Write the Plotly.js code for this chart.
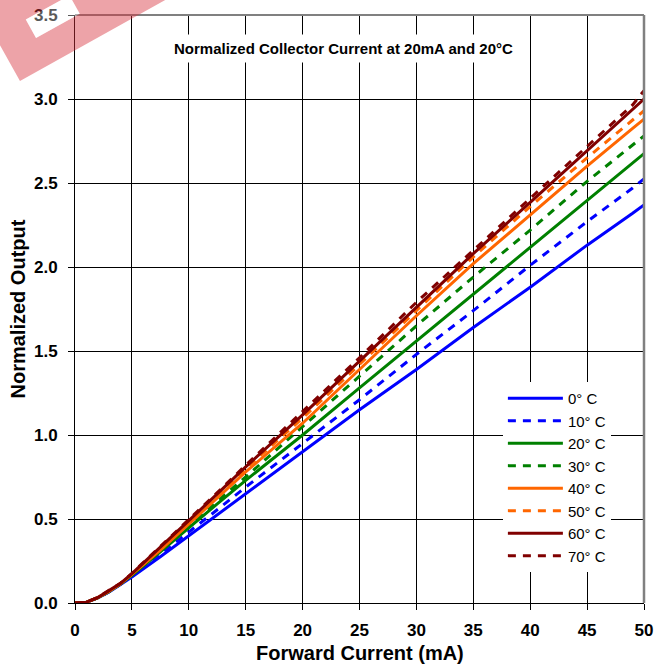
<!DOCTYPE html>
<html>
<head>
<meta charset="utf-8">
<script src="https://cdn.plot.ly/plotly-3.0.1.min.js"></script>
<style>html,body{margin:0;padding:0;background:#fff;}#chart{width:654px;height:668px;}</style>
</head>
<body>
<div id="chart"></div>
<script>
// Forward current (mA)
const current = [0, 1, 2, 3, 4, 5, 7.5, 10, 12.5, 15, 20, 25, 30, 35, 40, 45, 49, 50];
// Normalized output per temperature
const out0C  = [0, 0.005, 0.030, 0.066, 0.110, 0.155, 0.275, 0.400, 0.525, 0.650, 0.900, 1.150, 1.390, 1.640, 1.880, 2.130, 2.320, 2.370];
const out10C = [0, 0.005, 0.030, 0.067, 0.112, 0.160, 0.290, 0.420, 0.555, 0.690, 0.950, 1.210, 1.480, 1.740, 2.010, 2.270, 2.470, 2.525];
const out20C = [0, 0.005, 0.031, 0.068, 0.113, 0.165, 0.305, 0.450, 0.590, 0.730, 1.000, 1.280, 1.560, 1.840, 2.120, 2.400, 2.620, 2.675];
const out30C = [0, 0.005, 0.031, 0.069, 0.114, 0.168, 0.310, 0.460, 0.605, 0.750, 1.050, 1.350, 1.650, 1.940, 2.220, 2.510, 2.725, 2.780];
const out40C = [0, 0.005, 0.032, 0.070, 0.115, 0.170, 0.315, 0.470, 0.625, 0.780, 1.070, 1.390, 1.710, 2.020, 2.310, 2.600, 2.825, 2.880];
const out50C = [0, 0.005, 0.032, 0.071, 0.116, 0.172, 0.320, 0.480, 0.640, 0.800, 1.100, 1.420, 1.740, 2.060, 2.360, 2.650, 2.875, 2.930];
const out60C = [0, 0.005, 0.032, 0.072, 0.117, 0.175, 0.330, 0.490, 0.650, 0.810, 1.120, 1.440, 1.765, 2.080, 2.385, 2.690, 2.940, 3.000];
const out70C = [0, 0.005, 0.033, 0.073, 0.118, 0.176, 0.335, 0.495, 0.657, 0.820, 1.140, 1.460, 1.790, 2.100, 2.410, 2.715, 2.965, 3.050];

const seriesNames = ['0° C', '10° C', '20° C', '30° C', '40° C', '50° C', '60° C', '70° C'];
const seriesData = [out0C, out10C, out20C, out30C, out40C, out50C, out60C, out70C];
const seriesColors = ['#0000FF', '#0000FF', '#008000', '#008000', '#FF6600', '#FF6600', '#800000', '#800000'];
const seriesDash = ['solid', '8px,7px', 'solid', '8px,7px', 'solid', '8px,7px', 'solid', '8px,7px'];

const xTicks = [0, 5, 10, 15, 20, 25, 30, 35, 40, 45, 50];
const yTicks = [0, 0.5, 1.0, 1.5, 2.0, 2.5, 3.0, 3.5];

const chartTitle = 'Normalized Collector Current at 20mA and 20°C';
const xTitle = 'Forward Current (mA)';
const yTitle = 'Normalized Output';

const FONT = '"Liberation Sans", Arial, sans-serif';

const traces = seriesData.map((ys, i) => ({
  x: current, y: ys, type: 'scatter', mode: 'lines', name: seriesNames[i],
  line: {color: seriesColors[i], width: 3, dash: seriesDash[i]}
}));

// pixel -> paper helpers for the decorative stamp
const M = {l: 75, r: 10, t: 15, b: 65};
const W = 654, H = 668;
const pw = W - M.l - M.r, ph = H - M.t - M.b;
function px(x){ return ((x - M.l) / pw).toFixed(4); }
function py(y){ return ((H - M.b - y) / ph).toFixed(4); }
function pt(p){ return px(p[0]) + ',' + py(p[1]); }
const outer = [[20,81],[210,-25],[150,-132],[-40,-26]];
const inner = [[36,38],[25.8,19.6],[69.5,-4.6],[79.7,13.8]];
const stampPath = 'M' + outer.map(pt).join('L') + 'Z M' + inner.map(pt).join('L') + 'Z';
const holePath = 'M' + inner.map(pt).join('L') + 'Z';

const layout = {
  width: W, height: H,
  margin: M,
  paper_bgcolor: '#fff', plot_bgcolor: '#fff',
  font: {family: FONT, color: '#000'},
  showlegend: true,
  legend: {
    x: 0.752, y: 0.376, xanchor: 'left', yanchor: 'top',
    bgcolor: '#fff', borderwidth: 0,
    font: {family: FONT, size: 15, color: '#000'},
    itemwidth: 55, tracegroupgap: 0
  },
  xaxis: {
    range: [0, 50], tickvals: xTicks, ticktext: xTicks.map(String),
    showgrid: true, gridcolor: '#000', gridwidth: 1,
    zeroline: false, showline: true, linecolor: '#000', linewidth: 1,
    ticks: 'outside', ticklen: 6, tickcolor: '#000',
    tickfont: {family: FONT, size: 17, color: '#000', weight: 'bold'},
    ticklabelstandoff: 6, fixedrange: true
  },
  yaxis: {
    range: [0, 3.5], tickvals: yTicks, ticktext: yTicks.map(v => v.toFixed(1)),
    showgrid: true, gridcolor: '#000', gridwidth: 1,
    zeroline: false, showline: true, linecolor: '#000', linewidth: 1,
    ticks: 'outside', ticklen: 6, tickcolor: '#000',
    tickfont: {family: FONT, size: 17, color: '#000', weight: 'bold'},
    ticklabelstandoff: 7, fixedrange: true
  },
  shapes: [
    {type: 'line', xref: 'paper', yref: 'paper', x0: 0, x1: 1, y0: 1, y1: 1, line: {color: '#808080', width: 2}, layer: 'above'},
    {type: 'line', xref: 'paper', yref: 'paper', x0: 1, x1: 1, y0: 0, y1: 1, line: {color: '#808080', width: 2.5}, layer: 'above'},
    {type: 'path', xref: 'paper', yref: 'paper', path: stampPath, fillcolor: 'rgb(215,51,62)', opacity: 0.45, line: {width: 0}, layer: 'above'},
    {type: 'path', xref: 'paper', yref: 'paper', path: holePath, fillcolor: '#fff', opacity: 0.35, line: {width: 0}, layer: 'above'}
  ],
  annotations: [
    {text: chartTitle, xref: 'paper', yref: 'paper', x: 0.4716, y: 0.943, xanchor: 'center', yanchor: 'middle',
     showarrow: false, bgcolor: '#fff', borderpad: 5,
     font: {family: FONT, size: 15, color: '#000', weight: 'bold'}},
    {text: xTitle, xref: 'paper', yref: 'paper', x: 0.5, y: (602.7 - 653) / 588, xanchor: 'center', yanchor: 'middle',
     showarrow: false, font: {family: FONT, size: 20, color: '#000', weight: 'bold'}},
    {text: yTitle, xref: 'paper', yref: 'paper', x: (17.5 - 75) / 569, y: 0.5, xanchor: 'center', yanchor: 'middle',
     textangle: -90, showarrow: false, font: {family: FONT, size: 20, color: '#000', weight: 'bold'}}
  ]
};

Plotly.newPlot('chart', traces, layout, {displayModeBar: false, staticPlot: true});
</script>
</body>
</html>
